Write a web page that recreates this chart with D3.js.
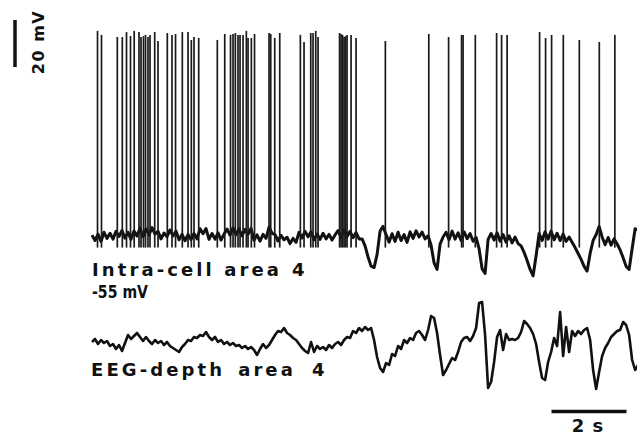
<!DOCTYPE html>
<html>
<head>
<meta charset="utf-8">
<script src="https://cdn.jsdelivr.net/npm/d3@7"></script>
<style>
  html, body { margin: 0; padding: 0; background: #fff; }
  svg { display: block; }
  .lbl { font-family: "DejaVu Sans", sans-serif; font-weight: bold; fill: #111; }
</style>
</head>
<body>
<svg id="chart" width="637" height="436"></svg>
<script>
// Sampling of both traces (s)
const sampleInterval = 0.08;
const duration = 14.53;

// Intracellular membrane potential between spikes (mV), one value per sample
const intraBaseline = [
  -54.2, -56.5, -53.8, -56.9, -53.0, -55.6, -53.4, -55.9, -52.6, -54.8,
  -52.2, -55.5, -53.0, -56.0, -52.4, -54.6, -51.2, -54.9, -51.6, -54.1,
  -51.0, -53.8, -52.6, -55.8, -53.3, -54.9, -52.0, -54.6, -52.5, -56.2,
  -53.9, -56.6, -54.0, -56.1, -53.5, -55.8, -51.5, -53.6, -51.4, -56.0,
  -53.5, -55.9, -53.2, -56.3, -53.8, -51.6, -54.2, -51.1, -54.0, -51.5,
  -54.5, -51.8, -53.9, -51.3, -56.4, -54.1, -56.8, -53.9, -55.6, -50.8,
  -53.4, -54.0, -56.7, -54.3, -56.2, -55.1, -57.8, -55.6, -57.3, -53.0,
  -55.4, -52.6, -54.9, -52.8, -56.2, -53.7, -56.0, -53.4, -55.8, -53.9,
  -56.3, -54.1, -52.3, -55.2, -52.0, -54.8, -52.6, -55.3, -53.1, -55.8,
  -55.8, -58.8, -63.5, -67.4, -68.0, -62.5, -52.5, -50.5, -54.0, -57.2,
  -53.6, -56.9, -53.0, -56.5, -54.0, -57.3, -52.8, -55.6, -52.4, -55.0,
  -52.9, -55.8, -54.5, -58.5, -66.0, -68.8, -58.0, -55.0, -53.0, -56.2,
  -52.5, -55.9, -53.2, -56.5, -52.8, -55.7, -53.5, -56.8, -55.2, -60.0,
  -68.5, -70.5, -56.0, -53.5, -56.3, -53.2, -56.8, -54.0, -57.2, -54.5,
  -57.5, -55.0, -57.8, -58.8, -61.5, -65.0, -68.8, -71.5, -63.0, -53.5,
  -56.5, -52.8, -55.9, -52.5, -56.2, -53.4, -56.5, -53.8, -56.9, -55.0,
  -57.2, -59.5, -62.0, -64.5, -67.5, -69.5, -62.0, -56.5, -54.0, -50.5,
  -55.0, -58.3, -55.2, -58.5, -55.8, -58.0, -60.5, -63.8, -67.5, -68.8,
  -60.0, -51.5, -52.0
];

// Action potentials: time (s) and peak (mV)
const spikeTimes = [
  0.147, 0.253, 0.675, 0.808, 0.920, 1.027, 1.125, 1.253, 1.307, 1.373,
  1.427, 1.493, 1.547, 1.672, 1.760, 2.008, 2.133, 2.227, 2.408, 2.560,
  2.648, 2.720, 2.845, 3.341, 3.539, 3.693, 3.760, 3.821, 3.893, 3.947,
  4.027, 4.115, 4.160, 4.248, 4.333, 4.720, 4.765, 4.872, 5.005, 5.555,
  5.653, 5.832, 5.893, 5.965, 6.027, 6.600, 6.640, 6.680, 6.720, 6.760,
  6.800, 6.907, 7.040, 7.821, 8.979, 9.507, 9.853, 9.893, 10.219, 10.787,
  10.920, 11.067, 11.933, 12.093, 12.253, 12.565, 12.992, 13.525, 13.939
];
const spikePeaks = [
  32.7, 31.0, 30.1, 30.1, 32.2, 30.5, 32.7, 32.2, 30.1, 30.5,
  31.0, 30.1, 31.0, 32.2, 28.4, 31.8, 31.0, 31.4, 32.2, 32.2,
  28.8, 30.1, 29.7, 28.8, 31.4, 31.0, 31.4, 31.8, 31.0, 31.0,
  31.0, 32.7, 29.7, 29.7, 31.4, 31.8, 31.4, 29.7, 31.8, 31.0,
  28.0, 31.8, 31.8, 32.7, 30.1, 31.8, 31.4, 31.0, 30.1, 30.5,
  31.0, 31.0, 29.7, 28.4, 31.4, 30.1, 31.0, 31.0, 31.0, 31.8,
  31.0, 31.0, 32.2, 29.7, 31.0, 31.0, 28.8, 28.0, 31.0
];
// After-hyperpolarization reached by each spike (mV)
const spikeTrough = -59.5;

// Depth EEG (µV), one value per sample
const eegValues = [
  2, 8, -2, 6, 0, 4, -6, -2, -12, -4,
  -16, 0, 16, 8, 14, 20, 12, 4, 12, 4,
  -2, 6, 0, 4, -4, 2, -6, -10, -14, -18,
  -8, -2, 6, 4, 12, 10, 16, 14, 22, 12,
  6, 12, 2, 6, -2, 2, -4, 0, -6, -4,
  -10, -6, -12, -8, -14, -24, -12, -2, -10, -4,
  6, 16, 24, 22, 30, 20, 16, 10, 6, -2,
  -10, -16, -20, 2, -18, -6, -12, -8, -14, -4,
  -10, -2, 2, -4, 6, 12, 10, 24, 20, 30,
  24, 32, 26, 30, 6, -28, -50, -58, -40, -44,
  -22, -26, -6, -12, 6, 0, 10, 6, 20, 24,
  16, 6, 26, 54, 50, 20, -24, -64, -54, -42,
  -30, -34, -18, 2, 10, 12, 4, 14, 30, 80,
  82, 16, -90, -78, -38, 12, 26, -14, 18, 6,
  8, 6, 10, 22, 44, 38, 30, 18, -2, -38,
  -70, -74, -38, -18, 10, -6, 62, -26, 32, -18,
  24, 14, 24, 18, 26, 30, 6, -54, -92, -58,
  -26, -10, 0, 12, 18, 24, 26, 42, 36, 16,
  -34, -54, -44
];

// Calibration bars
const voltBar = 20;   // mV
const timeBar = 2;    // s

const svg = d3.select("#chart");
svg.append("rect").attr("width", 637).attr("height", 436).attr("fill", "#fff");

const x = d3.scaleLinear().domain([0, duration]).range([92, 637]);
const yIntra = d3.scaleLinear().domain([-55, -35]).range([237, 190]);
const yEeg = d3.scaleLinear().domain([0, 100]).range([343, 293]);

svg.append("clipPath").attr("id", "clip")
  .append("rect").attr("x", 0).attr("y", 0).attr("width", 637).attr("height", 436);

const intraPts = intraBaseline.map((v, i) => ({ t: i * sampleInterval, v }));
const eegPts = eegValues.map((v, i) => ({ t: i * sampleInterval, v }));

const intraLine = d3.line().x(d => x(d.t)).y(d => yIntra(d.v));
const eegLine = d3.line().x(d => x(d.t)).y(d => yEeg(d.v));

const traces = svg.append("g").attr("clip-path", "url(#clip)");

// Membrane potential
traces.append("path")
  .datum(intraPts)
  .attr("d", intraLine)
  .attr("fill", "none")
  .attr("stroke", "#111")
  .attr("stroke-width", 3)
  .attr("stroke-linejoin", "round");

// Spikes
traces.append("g").selectAll("line")
  .data(spikeTimes.map((t, i) => ({ t, peak: spikePeaks[i] })))
  .join("line")
  .attr("x1", d => x(d.t)).attr("x2", d => x(d.t))
  .attr("y1", d => yIntra(d.peak))
  .attr("y2", yIntra(spikeTrough))
  .attr("stroke", "#1a1a1a")
  .attr("stroke-width", 1.7);

// EEG
traces.append("path")
  .datum(eegPts)
  .attr("d", eegLine)
  .attr("fill", "none")
  .attr("stroke", "#111")
  .attr("stroke-width", 2.6)
  .attr("stroke-linejoin", "round");

// Voltage calibration
const vLen = yIntra(-55) - yIntra(-55 + voltBar);
svg.append("line")
  .attr("x1", 15).attr("x2", 15)
  .attr("y1", 20).attr("y2", 20 + vLen)
  .attr("stroke", "#111").attr("stroke-width", 3.5);
svg.append("text").attr("class", "lbl")
  .attr("transform", "translate(44,42) rotate(-90)")
  .attr("text-anchor", "middle")
  .style("font-size", "16px").style("letter-spacing", "1.5px")
  .text(voltBar + " mV");

// Time calibration
const tLen = x(timeBar) - x(0);
svg.append("line")
  .attr("x1", 551.5).attr("x2", 551.5 + tLen)
  .attr("y1", 411.5).attr("y2", 411.5)
  .attr("stroke", "#111").attr("stroke-width", 3.5);
svg.append("text").attr("class", "lbl")
  .attr("x", 588).attr("y", 432)
  .attr("text-anchor", "middle")
  .style("font-size", "18px").style("letter-spacing", "1px")
  .text(timeBar + " s");

// Trace labels
const l1 = svg.append("text").attr("class", "lbl")
  .attr("x", 92).attr("y", 276)
  .style("font-size", "18px").style("letter-spacing", "3.1px");
l1.append("tspan").text("Intra-cell area");
l1.append("tspan").attr("dx", 10).text("4");

svg.append("text").attr("class", "lbl")
  .attr("x", 92).attr("y", 298)
  .attr("textLength", 56)
  .attr("lengthAdjust", "spacingAndGlyphs")
  .style("font-size", "17px")
  .text("-55 mV");

const l2 = svg.append("text").attr("class", "lbl")
  .attr("x", 91).attr("y", 376)
  .style("font-size", "18px").style("letter-spacing", "3.1px");
l2.append("tspan").text("EEG-depth");
l2.append("tspan").attr("dx", 13).text("area");
l2.append("tspan").attr("dx", 16).text("4");
</script>
</body>
</html>
